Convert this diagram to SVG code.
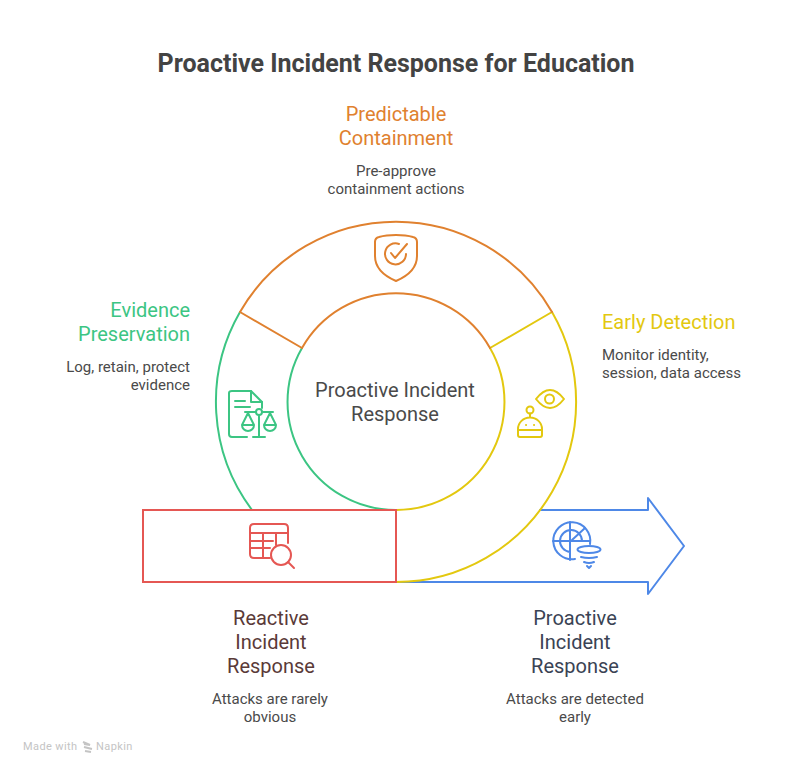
<svg xmlns="http://www.w3.org/2000/svg" width="792" height="774" viewBox="0 0 792 774">
<style>
text{font-family:Roboto,"Liberation Sans",sans-serif}
.t{font-size:20px;text-anchor:middle}
.d{font-size:15px;fill:#4a4a4a;text-anchor:middle}
.s{fill:none;stroke-width:2;stroke-linecap:round;stroke-linejoin:round}
.i{fill:none;stroke-width:2;stroke-linecap:round;stroke-linejoin:round}
.o{stroke:#e0812f}.g{stroke:#3cc583}.y{stroke:#e3c80f}.b{stroke:#4e88e7}.r{stroke:#e55753}
</style>
<rect width="792" height="774" fill="#fff"/>
<text x="396" y="72" font-size="25" font-weight="700" fill="#434343" text-anchor="middle">Proactive Incident Response for Education</text>
<g id="connectors">
<path class="s b" d="M396 582H648V594L684 546L648 498V510H540"/>
</g>
<g id="node-early-detection">
<path class="s y" d="M552 312A180 180 0 0 1 396 582M490 348A108 108 0 0 1 396 510M552 312L490 348"/>
<g class="i y">
<path d="M536 399Q550 381 564 399Q550 417 536 399Z"/><circle cx="549.500" cy="399" r="4.500"/>
<circle cx="530" cy="410" r="3.500"/><path d="M530 413.500V417.500M518 430V429A12 11.500 0 0 1 542 429V430ZM518 430H542V435Q542 437 540 437H520Q518 437 518 435Z"/>
<path d="M526 425h.1M534 425h.1"/>
</g>
</g>
<g id="node-evidence">
<path class="s g" d="M240 312A180 180 0 0 0 252 510M302 348A108 108 0 0 0 396 510"/>
<g class="i g">
<path d="M247 437H232Q229 437 229 434V393Q229 391 232 391H251L262 402V408"/><path d="M251 391V402H262M235 401H245M235 407H250"/>
<circle cx="259" cy="412" r="3"/><path d="M245 412H256M262 412H273M259 415V437M253 437H265M248 413L242 425H254ZM270 413L264 425H276ZM242 425A6 6 0 0 0 254 425M264 425A6 6 0 0 0 276 425"/>
</g>
</g>
<g id="node-containment">
<path class="s o" d="M240 312A180 180 0 0 1 552 312M302 348A108 108 0 0 1 490 348M240 312L302 348"/>
<g class="i o">
<path d="M396 235Q386 235 379 237Q375 238 375 242V256Q375 272 396 281Q417 272 417 256V242Q417 238 413 237Q406 235 396 235Z"/>
<path d="M406 254A10.500 10.500 0 1 1 399 244"/><path d="M391 253L395 258L407 244"/>
</g>
</g>
<g id="node-reactive">
<rect x="143" y="510" width="253" height="72" fill="#fff" stroke="#e55753" stroke-width="2"/>
<g class="i r">
<path d="M270 558H254Q250 558 250 554V528Q250 524 254 524H284Q288 524 288 528V543"/>
<path d="M250 533H288M250 541H273M250 548H270M263 533V558M276 533V545"/>
<circle cx="281" cy="555" r="10"/><path d="M288 562L294 568"/>
</g>
</g>
<g id="node-proactive">
<g class="i b">
<path d="M590 544A18.500 18.500 0 1 0 575 559"/>
<path d="M570 522V560M553 541H590M582 541A11 11 0 1 0 570 552M572 540L585 528"/>
<ellipse cx="589" cy="549.500" rx="11.500" ry="3.500"/><path d="M581 557Q589 559 597 557M584 562Q589 564 594 562M587 566L589 568L591 566"/>
</g>
</g>
<g id="node-center"><text x="395" y="397" font-size="20" fill="#4a4a4a" text-anchor="middle">Proactive Incident</text><text x="395" y="421" font-size="20" fill="#4a4a4a" text-anchor="middle">Response</text></g>
<g fill="#e0812f"><text class="t" x="396" y="121">Predictable</text><text class="t" x="396" y="145">Containment</text></g>
<text class="d" x="396" y="176">Pre-approve</text><text class="d" x="396" y="194">containment actions</text>
<g fill="#3cc583" text-anchor="end"><text font-size="20" x="190" y="317">Evidence</text><text font-size="20" x="190" y="341">Preservation</text></g>
<g class="d" style="text-anchor:end"><text x="190" y="372">Log, retain, protect</text><text x="190" y="390">evidence</text></g>
<text font-size="20" fill="#e3c80f" x="602" y="329">Early Detection</text>
<g font-size="15" fill="#4a4a4a"><text x="602" y="360">Monitor identity,</text><text x="602" y="378">session, data access</text></g>
<g fill="#5a3a38"><text class="t" x="271" y="625">Reactive</text><text class="t" x="271" y="649">Incident</text><text class="t" x="271" y="673">Response</text></g>
<text class="d" x="270" y="704">Attacks are rarely</text><text class="d" x="270" y="722">obvious</text>
<g fill="#3a4354"><text class="t" x="575" y="625">Proactive</text><text class="t" x="575" y="649">Incident</text><text class="t" x="575" y="673">Response</text></g>
<text class="d" x="575" y="704">Attacks are detected</text><text class="d" x="575" y="722">early</text>
<g id="watermark"><text x="23" y="750" font-size="11" fill="#c4c4c4" letter-spacing=".4">Made with</text>
<path d="M83 742L90 745L84 744M84 747L92 749M85 751L91 752" fill="none" stroke="#c4c4c4" stroke-width="2"/>
<text x="96" y="750" font-size="11" fill="#c4c4c4" letter-spacing=".4">Napkin</text></g>
</svg>
